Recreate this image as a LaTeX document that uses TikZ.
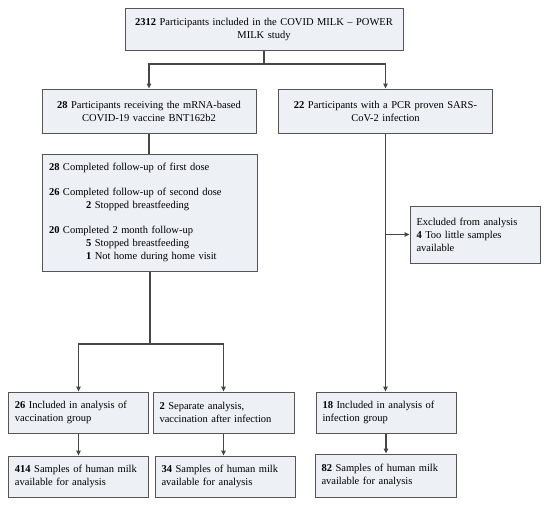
\documentclass[tikz,border=0pt]{standalone}
\usepackage{fontspec}
\setmainfont{Liberation Serif}
\usetikzlibrary{arrows.meta}
\definecolor{boxfill}{RGB}{237,240,245}
\definecolor{boxline}{RGB}{85,85,85}
\definecolor{flowline}{RGB}{70,70,70}
\tikzset{
	flowbox/.style={draw=boxline, fill=boxfill, line width=1pt, inner xsep=6.5pt, inner ysep=3pt, font=\fontsize{10.5}{13}\selectfont},
	midbox/.style={flowbox, inner xsep=3pt, align=center},
	leftbox/.style={flowbox, align=left},
	flowlink/.style={draw=flowline, line width=1.1pt},
	flowarrow/.style={flowlink, -{Triangle[length=5pt,width=4.5pt]}}
}

\begin{document}
\begin{tikzpicture}[x=1pt, y=-1pt]
			%%%%% START %%%%%
			\useasboundingbox (0,0) rectangle (550,507);
			
			\node[midbox, text width=272pt, minimum height=42pt] (total) at (264,29) {\textbf{2312} Participants included in the COVID MILK – POWER\\ MILK study};
			
			\node[midbox, text width=208pt, minimum height=44pt] (vac) at (149,111) {\textbf{28} Participants receiving the mRNA-based\\ COVID-19 vaccine BNT162b2};
			\node[midbox, text width=208pt, minimum height=44pt] (inf) at (385.5,111) {\textbf{22} Participants with a PCR proven SARS-\\ CoV-2 infection};
			
			\node[leftbox, text width=202pt, minimum height=117pt] (fu) at (150,212.5) {\textbf{28} Completed follow-up of first dose\\[12pt]
				\textbf{26} Completed follow-up of second dose\\
				\hspace*{37pt}\textbf{2} Stopped breastfeeding\\[12pt]
				\textbf{20} Completed 2 month follow-up\\
				\hspace*{37pt}\textbf{5} Stopped breastfeeding\\
				\hspace*{37pt}\textbf{1} Not home during home visit};
			
			\node[leftbox, text width=117pt, minimum height=57pt] (excl) at (475,234.5) {Excluded from analysis\\ \textbf{4} Too little samples\\ available};
			
			\node[leftbox, text width=127pt, minimum height=41pt] (inc26) at (78.5,412.5) {\textbf{26} Included in analysis of\\ vaccination group};
			\node[leftbox, text width=128pt, minimum height=41pt] (sep2) at (223.5,412.5) {\textbf{2} Separate analysis,\\ vaccination after infection};
			\node[leftbox, text width=127pt, minimum height=41pt] (inc18) at (386,412.5) {\textbf{18} Included in analysis of\\ infection group};
			
			\node[leftbox, text width=127pt, minimum height=41pt] (s414) at (78.5,476.5) {\mbox{\textbf{414} Samples of human milk}\\ available for analysis};
			\node[leftbox, text width=127pt, minimum height=41pt] (s34) at (225,476.5) {\mbox{\textbf{34} Samples of human milk}\\ available for analysis};
			\node[leftbox, text width=128pt, minimum height=43pt] (s82) at (385.5,475.5) {\mbox{\textbf{82} Samples of human milk}\\ available for analysis};
			
			\coordinate (split) at (264,64);
			\draw[flowlink] (total.south) -- (split);
			\draw[flowarrow] (split) -| (vac.north);
			\draw[flowarrow] (split) -| (inf.north);
			
			\draw[flowlink] (vac.south) -- (vac.south |- fu.north);
			\coordinate (branch) at (150,344);
			\draw[flowlink] (fu.south) -- (branch);
			\draw[flowarrow] (branch) -| (inc26.north);
			\draw[flowarrow] (branch) -| (sep2.north);
			
			\draw[flowarrow] (inf.south) -- (inf.south |- inc18.north);
			\draw[flowarrow] (inf.south |- excl.west) -- (excl.west);
			
			\draw[flowarrow] (inc26.south) -- (inc26.south |- s414.north);
			\draw[flowarrow] (sep2.south) -- (sep2.south |- s34.north);
			\draw[flowarrow] (inc18.south) -- (inc18.south |- s82.north);
			
			%%%%% END %%%%%
\end{tikzpicture}
\end{document}
